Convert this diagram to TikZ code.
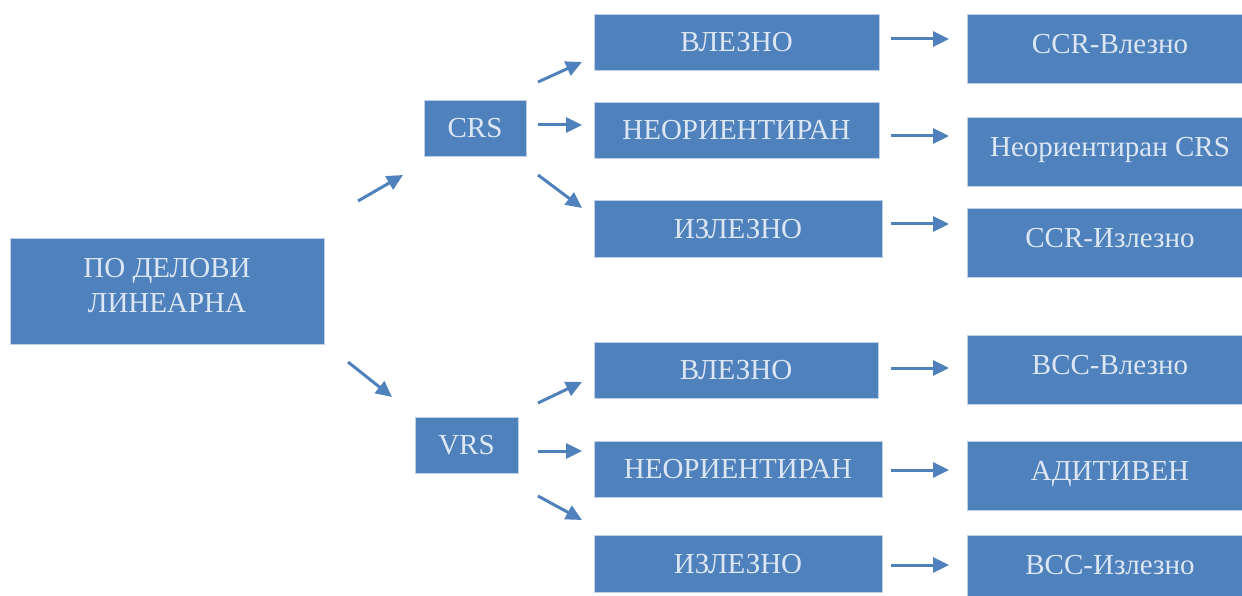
\documentclass[tikz,border=0pt]{standalone}
\usepackage{fontspec}
\setmainfont{Liberation Serif}
\usetikzlibrary{arrows.meta}
\definecolor{boxblue}{RGB}{79,129,189}
\definecolor{boxtext}{RGB}{221,231,243}
\definecolor{boxedge}{RGB}{190,207,230}
\tikzset{
  box/.style={rectangle, fill=boxblue, draw=boxedge, line width=0.7pt,
    text=boxtext, font=\fontsize{29}{35}\selectfont, inner sep=0pt,
    text height=23.2pt, text depth=4pt},
  leaf/.style={box, minimum width=286pt, minimum height=69pt,
    text depth=14pt},
  arr/.style={draw=boxblue, line width=3pt,
    -{Triangle[length=16pt,width=15pt]}}
}
\begin{document}
\begin{tikzpicture}[x=1pt, y=-1pt]
\clip (0,0) rectangle (1242,596);
\fill[white] (0,0) rectangle (1242,596);

% root
\node[box, minimum width=314pt, minimum height=106pt, align=center,
  text height=58.2pt, text depth=16pt] (m) at (167,291) {ПО ДЕЛОВИ\\ЛИНЕАРНА};

% second level
\node[box, minimum width=102pt, minimum height=56pt] (crs) at (475,128) {CRS};
\node[box, minimum width=103pt, minimum height=56pt] (vrs) at (466.5,445) {VRS};

% third level, upper group
\node[box, minimum width=285pt, minimum height=56pt] (t1) at (736.5,42) {ВЛЕЗНО};
\node[box, minimum width=285pt, minimum height=56pt] (t2) at (736.5,130) {НЕОРИЕНТИРАН};
\node[box, minimum width=288pt, minimum height=57pt] (t3) at (738,228.5) {ИЗЛЕЗНО};

% third level, lower group
\node[box, minimum width=284pt, minimum height=56pt] (b1) at (736,370) {ВЛЕЗНО};
\node[box, minimum width=288pt, minimum height=56pt] (b2) at (738,469) {НЕОРИЕНТИРАН};
\node[box, minimum width=288pt, minimum height=57pt] (b3) at (738,563.5) {ИЗЛЕЗНО};

% results
\node[leaf] (r1) at (1110,48.5) {CCR-Влезно};
\node[leaf] (r2) at (1110,151.5) {Неориентиран CRS};
\node[leaf] (r3) at (1110,242.5) {CCR-Излезно};
\node[leaf] (r4) at (1110,369.5) {ВСС-Влезно};
\node[leaf] (r5) at (1110,475.5) {АДИТИВЕН};
\node[leaf] (r6) at (1110,569.5) {ВСС-Излезно};

% arrows (they stop short of the boxes)
\draw[arr] ([shift={(191,-90)}]m.center) -- ([shift={(-72,47)}]crs.center);
\draw[arr] ([shift={(181,71)}]m.center) -- ([shift={(-74.5,-48)}]vrs.center);

\draw[arr] ([shift={(63,-46)}]crs.center) -- ([shift={(-154.5,20)}]t1.center);
\draw[arr] ([shift={(63,-3)}]crs.center) -- ([shift={(-154.5,-5)}]t2.center);
\draw[arr] ([shift={(63,47)}]crs.center) -- ([shift={(-156,-20.5)}]t3.center);

\draw[arr] ([shift={(71.5,-42)}]vrs.center) -- ([shift={(-154,12)}]b1.center);
\draw[arr] ([shift={(71.5,6)}]vrs.center) -- ([shift={(-156,-18)}]b2.center);
\draw[arr] ([shift={(71.5,51)}]vrs.center) -- ([shift={(-156,-43.5)}]b3.center);

\draw[arr] ([shift={(154.5,-3)}]t1.center) -- ([shift={(-161,-9.5)}]r1.center);
\draw[arr] ([shift={(154.5,6)}]t2.center) -- ([shift={(-161,-15.5)}]r2.center);
\draw[arr] ([shift={(153,-4.5)}]t3.center) -- ([shift={(-161,-18.5)}]r3.center);
\draw[arr] ([shift={(155,-2)}]b1.center) -- ([shift={(-161,-1.5)}]r4.center);
\draw[arr] ([shift={(153,1)}]b2.center) -- ([shift={(-161,-5.5)}]r5.center);
\draw[arr] ([shift={(153,1.5)}]b3.center) -- ([shift={(-161,-4.5)}]r6.center);
\end{tikzpicture}
\end{document}
